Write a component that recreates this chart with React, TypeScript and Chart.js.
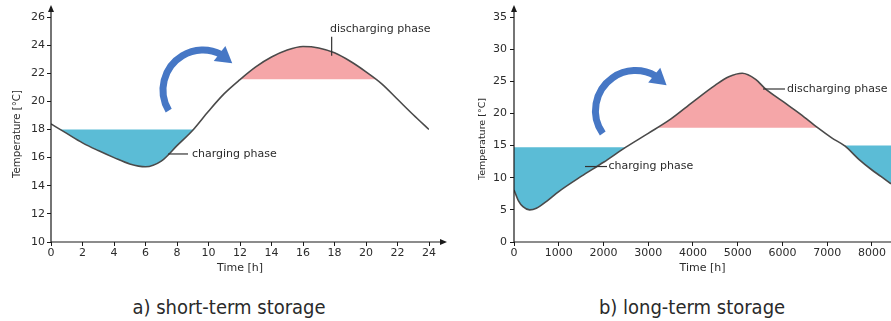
import React, { useEffect, useRef } from 'react';
import { Chart, registerables } from 'chart.js';

Chart.register(...registerables);

// ---------- a) short-term storage ----------
const shortHours = [0, 1, 2, 3, 4, 5, 6, 7, 8, 9, 10, 11, 12, 13, 14, 15, 16, 17, 18, 19, 20, 21, 22, 23, 24];
const shortTemps = [18.4, 17.72, 17.05, 16.5, 16.0, 15.55, 15.35, 15.75, 16.85, 17.95, 19.3, 20.55, 21.55, 22.45, 23.15, 23.65, 23.9, 23.8, 23.45, 22.85, 22.1, 21.25, 20.15, 19.05, 18.0];
const shortChargeLevel = 18.0;
const shortDischargeLevel = 21.58;
const shortXRange = [0, 24];
const shortXTicks = [0, 2, 4, 6, 8, 10, 12, 14, 16, 18, 20, 22, 24];
const shortYRange = [10, 26];
const shortYTicks = [10, 12, 14, 16, 18, 20, 22, 24, 26];

// ---------- b) long-term storage ----------
const longHours = [0, 100, 200, 350, 500, 750, 1000, 1500, 2000, 2500, 3000, 3500, 4000, 4500, 4800, 5100, 5400, 5600, 6000, 6400, 6800, 7100, 7400, 7700, 8000, 8200, 8425];
const longTemps = [8.1, 6.4, 5.5, 5.0, 5.25, 6.45, 7.85, 10.2, 12.4, 14.75, 16.9, 19.1, 21.8, 24.4, 25.7, 26.25, 25.3, 23.95, 21.9, 19.9, 17.7, 16.2, 14.9, 12.9, 11.2, 10.2, 9.05];
const longChargeLevelStart = 14.75;
const longChargeLevelEnd = 15.0;
const longDischargeLevel = 17.78;
const longXRange = [0, 8425];
const longXTicks = [0, 1000, 2000, 3000, 4000, 5000, 6000, 7000, 8000];
const longYRange = [0, 35];
const longYTicks = [0, 5, 10, 15, 20, 25, 30, 35];

const xTitle = 'Time [h]';
const yTitle = 'Temperature [°C]';
const captions = ['a) short-term storage', 'b) long-term storage'];

// ---------- styles ----------
const LINE = '#4a4a4a';
const BLUE = '#5bbcd6';
const PINK = '#f5a6a8';
const ARROW = '#4677c5';
const AXIS = '#1a1a1a';
const TEXT = '#2b2b2b';
const FONT = '"DejaVu Sans", sans-serif';

type Note = { x0: number; y0: number; x1: number; y1: number; tx: number; ty: number; text: string };
type FillSpec = { level: number; side: 'above' | 'below'; from: number; to: number; color: string };
type Decor = {
  xExtra: number;
  yTitle: { x: number; y: number; size: number };
  fills: FillSpec[];
  arrow: { cx: number; cy: number; r: number; a0: number; a1: number; tilt: number };
  notes: Note[];
};

const decorPlugin = (d: Decor) => ({
  id: 'decor',
  beforeDatasetsDraw(chart: any) {
    const { ctx, chartArea: a } = chart;
    const xs = chart.scales.x;
    const ys = chart.scales.y;
    const line = chart.getDatasetMeta(0).dataset;
    line.updateControlPoints(a, 'x');
    const points = line.points;
    if (!points || !points.length) return;
    const first = points[0];
    const last = points[points.length - 1];
    d.fills.forEach((f) => {
      const ly = ys.getPixelForValue(f.level);
      const x0 = Math.max(a.left, xs.getPixelForValue(f.from));
      const x1 = Math.min(a.right, xs.getPixelForValue(f.to));
      ctx.save();
      ctx.beginPath();
      if (f.side === 'below') ctx.rect(x0, ly, x1 - x0, a.bottom - ly);
      else ctx.rect(x0, a.top, x1 - x0, ly - a.top);
      ctx.clip();
      ctx.beginPath();
      line.path(ctx);
      const edge = f.side === 'below' ? a.top - 2 : a.bottom + 2;
      ctx.lineTo(last.x, edge);
      ctx.lineTo(first.x, edge);
      ctx.closePath();
      ctx.fillStyle = f.color;
      ctx.fill();
      ctx.restore();
    });
  },
  afterDatasetsDraw(chart: any) {
    const { ctx, chartArea: a } = chart;
    const xs = chart.scales.x;
    const ys = chart.scales.y;
    ctx.save();
    // axes with arrows
    ctx.strokeStyle = AXIS;
    ctx.fillStyle = AXIS;
    ctx.lineWidth = 1.2;
    const xEnd = a.right + d.xExtra;
    const yEnd = a.top - 12;
    ctx.beginPath();
    ctx.moveTo(a.left, a.bottom);
    ctx.lineTo(xEnd - 4, a.bottom);
    ctx.moveTo(a.left, a.bottom);
    ctx.lineTo(a.left, yEnd + 4);
    ctx.stroke();
    ctx.beginPath();
    ctx.moveTo(xEnd, a.bottom);
    ctx.lineTo(xEnd - 7, a.bottom - 3);
    ctx.lineTo(xEnd - 7, a.bottom + 3);
    ctx.closePath();
    ctx.fill();
    ctx.beginPath();
    ctx.moveTo(a.left, yEnd);
    ctx.lineTo(a.left - 3, yEnd + 7);
    ctx.lineTo(a.left + 3, yEnd + 7);
    ctx.closePath();
    ctx.fill();

    // y axis title
    ctx.save();
    ctx.fillStyle = TEXT;
    ctx.font = `${d.yTitle.size}px ${FONT}`;
    ctx.textAlign = 'center';
    ctx.textBaseline = 'middle';
    ctx.translate(d.yTitle.x, d.yTitle.y);
    ctx.rotate(-Math.PI / 2);
    ctx.fillText(yTitle, 0, 0);
    ctx.restore();

    // curved arrow
    const ar = d.arrow;
    const cx = xs.getPixelForValue(ar.cx);
    const cy = ys.getPixelForValue(ar.cy);
    ctx.strokeStyle = ARROW;
    ctx.fillStyle = ARROW;
    ctx.lineWidth = 7;
    ctx.lineCap = 'butt';
    ctx.beginPath();
    ctx.arc(cx, cy, ar.r, ar.a0, ar.a1 + 0.04, false);
    ctx.stroke();
    const bx = cx + ar.r * Math.cos(ar.a1);
    const by = cy + ar.r * Math.sin(ar.a1);
    const dir = ar.a1 + Math.PI / 2 + ar.tilt;
    const ux = Math.cos(dir);
    const uy = Math.sin(dir);
    const px = -uy;
    const py = ux;
    const hw = 9.5;
    const len = 16;
    ctx.beginPath();
    ctx.moveTo(bx + px * hw, by + py * hw);
    ctx.lineTo(bx + ux * len, by + uy * len);
    ctx.lineTo(bx - px * hw, by - py * hw);
    ctx.closePath();
    ctx.fill();

    // annotations
    ctx.strokeStyle = '#333';
    ctx.lineWidth = 1.2;
    ctx.fillStyle = TEXT;
    ctx.font = `11px ${FONT}`;
    ctx.textAlign = 'left';
    ctx.textBaseline = 'middle';
    d.notes.forEach((n) => {
      ctx.beginPath();
      ctx.moveTo(xs.getPixelForValue(n.x0), ys.getPixelForValue(n.y0));
      ctx.lineTo(xs.getPixelForValue(n.x1), ys.getPixelForValue(n.y1));
      ctx.stroke();
      ctx.fillText(n.text, xs.getPixelForValue(n.tx), ys.getPixelForValue(n.ty));
    });
    ctx.restore();
  },
});

const pts = (xs: number[], ys: number[]) => xs.map((x, i) => ({ x, y: ys[i] }));

const lineDs = (data: any[]) => ({
  data,
  borderColor: LINE,
  borderWidth: 1.6,
  pointRadius: 0,
  fill: false,
  cubicInterpolationMode: 'monotone' as const,
});

const makeOptions = (
  xRange: number[],
  xTicks: number[],
  yRange: number[],
  yTicks: number[],
  yWidth: number,
  rightPad: number,
  yTickPad: number
) => ({
  animation: false as const,
  responsive: false,
  events: [],
  layout: { padding: { top: 17, right: rightPad, left: 0, bottom: 0 } },
  plugins: {
    legend: { display: false },
    tooltip: { enabled: false },
  },
  scales: {
    x: {
      type: 'linear' as const,
      min: xRange[0],
      max: xRange[1],
      border: { display: false },
      grid: { display: true, drawOnChartArea: false, drawTicks: true, tickLength: 4, color: AXIS },
      ticks: {
        autoSkip: false,
        maxRotation: 0,
        padding: 1,
        color: TEXT,
        font: { family: FONT, size: 11 },
        callback: (v: any) => String(v),
      },
      afterBuildTicks: (s: any) => {
        s.ticks = xTicks.map((value) => ({ value }));
      },
      title: {
        display: true,
        text: xTitle,
        color: TEXT,
        font: { family: FONT, size: 11 },
        padding: { top: 0, bottom: 5 },
      },
      afterFit: (s: any) => {
        s.height = 38;
      },
    },
    y: {
      type: 'linear' as const,
      min: yRange[0],
      max: yRange[1],
      border: { display: false },
      grid: { display: true, drawOnChartArea: false, drawTicks: true, tickLength: 4, color: AXIS },
      ticks: {
        autoSkip: false,
        padding: yTickPad,
        color: TEXT,
        font: { family: FONT, size: 11 },
        callback: (v: any) => String(v),
      },
      afterBuildTicks: (s: any) => {
        s.ticks = yTicks.map((value) => ({ value }));
      },
      afterFit: (s: any) => {
        s.width = yWidth;
      },
    },
  },
});

export default function App() {
  const ref1 = useRef<HTMLCanvasElement>(null);
  const ref2 = useRef<HTMLCanvasElement>(null);

  useEffect(() => {
    const c1 = new Chart(ref1.current as HTMLCanvasElement, {
      type: 'line',
      data: { datasets: [lineDs(pts(shortHours, shortTemps))] as any },
      options: makeOptions(shortXRange, shortXTicks, shortYRange, shortYTicks, 51, 21, 2) as any,
      plugins: [
        decorPlugin({
          xExtra: 18,
          yTitle: { x: 17, y: 134, size: 10.2 },
          fills: [
            { level: shortChargeLevel, side: 'below', from: 0, to: 12, color: BLUE },
            { level: shortDischargeLevel, side: 'above', from: 0, to: 24, color: PINK },
          ],
          arrow: { cx: 9.65, cy: 20.81, r: 40, a0: 2.6, a1: 5.14, tilt: 0.23 },
          notes: [
            { x0: 7.43, y0: 16.26, x1: 8.7, y1: 16.26, tx: 8.95, ty: 16.26, text: 'charging phase' },
            { x0: 17.82, y0: 23.25, x1: 17.82, y1: 24.6, tx: 17.71, ty: 25.15, text: 'discharging phase' },
          ],
        }),
      ],
    });

    const c2 = new Chart(ref2.current as HTMLCanvasElement, {
      type: 'line',
      data: { datasets: [lineDs(pts(longHours, longTemps))] as any },
      options: makeOptions(longXRange, longXTicks, longYRange, longYTicks, 64, 0, 3) as any,
      plugins: [
        decorPlugin({
          xExtra: 10,
          yTitle: { x: 33, y: 139, size: 9.5 },
          fills: [
            { level: longChargeLevelStart, side: 'below', from: 0, to: 4000, color: BLUE },
            { level: longChargeLevelEnd, side: 'below', from: 6000, to: 8425, color: BLUE },
            { level: longDischargeLevel, side: 'above', from: 0, to: 8425, color: PINK },
          ],
          arrow: { cx: 2715, cy: 20.45, r: 40, a0: 2.53, a1: 5.2, tilt: 0.2 },
          notes: [
            { x0: 1587, y0: 11.74, x1: 2078, y1: 11.74, tx: 2110, ty: 11.74, text: 'charging phase' },
            { x0: 5564, y0: 23.8, x1: 6056, y1: 23.8, tx: 6100, ty: 23.8, text: 'discharging phase' },
          ],
        }),
      ],
    });

    return () => {
      c1.destroy();
      c2.destroy();
    };
  }, []);

  const capStyle: React.CSSProperties = {
    position: 'absolute',
    top: 296,
    textAlign: 'center',
    fontFamily: '"DejaVu Sans", sans-serif',
    fontStretch: 'condensed',
    fontSize: 20,
    lineHeight: '22px',
    color: '#2a2a2a',
    whiteSpace: 'nowrap',
  };

  return (
    <div style={{ position: 'absolute', left: 0, top: 0, width: 891, height: 321, background: '#fff', overflow: 'hidden' }}>
      <canvas ref={ref1} width={450} height={280} style={{ position: 'absolute', left: 0, top: 0 }} />
      <canvas ref={ref2} width={441} height={280} style={{ position: 'absolute', left: 450, top: 0 }} />
      <div style={{ ...capStyle, left: 0, width: 458 }}>{captions[0]}</div>
      <div style={{ ...capStyle, left: 492, width: 400 }}>{captions[1]}</div>
    </div>
  );
}
